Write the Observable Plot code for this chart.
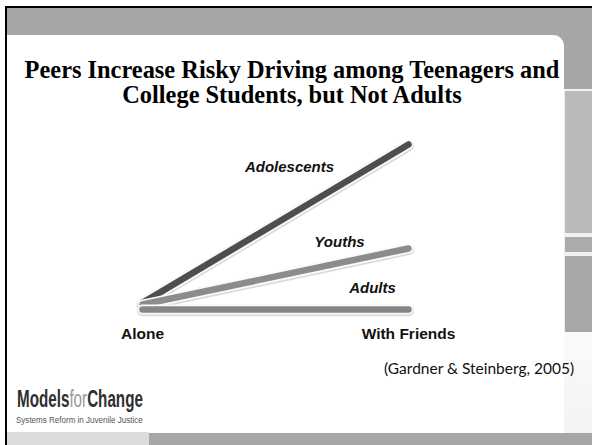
<!DOCTYPE html>
<html>
<head>
<meta charset="utf-8">
<script src="https://cdn.jsdelivr.net/npm/d3@7"></script>
<script src="https://cdn.jsdelivr.net/npm/@observablehq/plot@0.6"></script>
<style>
  html, body { margin: 0; padding: 0; background: #fff; }
  #slide { position: relative; width: 592px; height: 445px; overflow: hidden; background: #fff; }
  .abs { position: absolute; }
  #title { left: 6px; width: 572px; top: 57px; text-align: center;
    font-family: "Liberation Serif", "Times New Roman", serif; font-weight: bold;
    font-size: 24.4px; line-height: 25px; color: #000; white-space: nowrap; }
  #cite { left: 384px; top: 359px; font-family: Lato, "Open Sans", sans-serif; font-size: 15.5px; color: #111; white-space: nowrap; }
  #chart { left: 0; top: 0; }
</style>
</head>
<body>
<div id="slide">
  <!-- slide frame -->
  <div class="abs" style="left:5px;top:6px;width:587px;height:439px;background:#000;"></div>
  <div class="abs" style="left:7px;top:8px;width:585px;height:437px;background:#a6a6a6;"></div>
  <div class="abs" style="left:564px;top:89px;width:28px;height:2px;background:#f2f2f2;"></div>
  <div class="abs" style="left:564px;top:91px;width:28px;height:142px;background:#bababa;border-left:1px solid #eee;"></div>
  <div class="abs" style="left:564px;top:233px;width:28px;height:4px;background:#f2f2f2;"></div>
  <div class="abs" style="left:564px;top:237px;width:28px;height:15px;background:#ababab;border-left:1px solid #eee;"></div>
  <div class="abs" style="left:564px;top:252px;width:28px;height:4px;background:#f2f2f2;"></div>
  <div class="abs" style="left:564px;top:256px;width:28px;height:76px;background:#a7a7a7;border-left:1px solid #eee;"></div>
  <div class="abs" style="left:564px;top:332px;width:28px;height:101px;background:linear-gradient(#fbfbfb,#f3f3f3);"></div>
  <div class="abs" style="left:7px;top:35px;width:557px;height:398px;background:#fff;border-top-right-radius:11px;"></div>
  <div class="abs" style="left:7px;top:432px;width:142px;height:13px;background:#dcdcdc;"></div>
  <div id="title" class="abs">Peers Increase Risky Driving among Teenagers and<br>College Students, but Not Adults</div>
  <div id="cite" class="abs">(Gardner &amp; Steinberg, 2005)</div>
  <svg class="abs" style="left:0px;top:380px;" width="150" height="50">
    <g id="logoMain" transform="translate(17,27)">
      <text id="logoText" x="0" y="0" font-family="'Liberation Sans',Arial,sans-serif" font-size="24" font-weight="bold" fill="#2f2f2f">Models<tspan fill="#9a9a9a" font-weight="normal">for</tspan>Change</text>
    </g>
    <g id="logoSub" transform="translate(16,43)">
      <text id="logoSubText" x="0" y="0" font-family="'Liberation Sans',Arial,sans-serif" font-size="9" fill="#555">Systems Reform in Juvenile Justice</text>
    </g>
  </svg>
  <div id="chart" class="abs"></div>
</div>
<script>
// fit logo texts horizontally (condensed look)
(function () {
  const fit = (gid, tid, w, x, y) => {
    const t = document.getElementById(tid);
    const len = t.getComputedTextLength();
    document.getElementById(gid).setAttribute("transform", `translate(${x},${y}) scale(${w / len},1)`);
  };
  fit("logoMain", "logoText", 126, 17, 27);
  fit("logoSub", "logoSubText", 127, 16, 43);
})();

// ---- data ----
const categories = ["Alone", "With Friends"];
const groups = ["Adolescents", "Youths", "Adults"];
const aloneRisk = [4, 3, 0];
const friendsRisk = [100, 37, 0];
const groupColors = ["#4e4e4e", "#8c8c8c", "#868686"];

const rows = groups.flatMap((g, i) => [
  {group: g, condition: categories[0], risk: aloneRisk[i]},
  {group: g, condition: categories[1], risk: friendsRisk[i]}
]);
const ends = groups.map((g, i) => ({group: g, condition: categories[1], risk: friendsRisk[i]}));

// label offsets (pixels) relative to each line's end point
const labelOffset = {Adolescents: [-119, 23], Youths: [-69, -6], Adults: [-36, -21]};

const marks = [];
for (const g of groups) {
  const sub = rows.filter(d => d.group === g);
  marks.push(Plot.line(sub, {x: "condition", y: "risk", stroke: "#bdbdbd", strokeWidth: 11.5, strokeOpacity: 0.55, strokeLinecap: "round", dy: 1}));
  marks.push(Plot.line(sub, {x: "condition", y: "risk", stroke: "#fbfbfb", strokeWidth: 10, strokeLinecap: "round"}));
  marks.push(Plot.line(sub, {x: "condition", y: "risk", z: "group", stroke: "group", strokeWidth: 6.5, strokeLinecap: "round"}));
}
for (const g of groups) {
  const [dx, dy] = labelOffset[g];
  marks.push(Plot.text(ends.filter(d => d.group === g), {
    x: "condition", y: "risk", text: "group", dx, dy,
    fontSize: 15, fontWeight: "bold", fontStyle: "italic", fill: "#111"
  }));
}
marks.push(Plot.axisX({anchor: "bottom", tickSize: 0, tickPadding: 1, fontSize: 15.5, fontWeight: "bold", fill: "#111", label: null}));

const chart = Plot.plot({
  width: 592,
  height: 445,
  marginBottom: 119,
  style: {background: "transparent", fontFamily: "'Liberation Sans', Arial, sans-serif", overflow: "visible"},
  x: {type: "point", domain: categories, range: [142, 408], padding: 0},
  y: {domain: [0, 100], range: [309, 144], axis: null},
  color: {domain: groups, range: groupColors},
  marks
});
document.getElementById("chart").appendChild(chart);
</script>
</body>
</html>
